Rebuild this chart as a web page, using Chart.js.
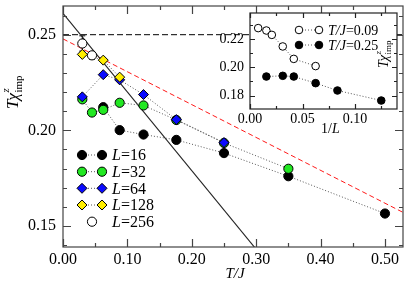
<!DOCTYPE html>
<html><head><meta charset="utf-8">
<script src="https://cdn.jsdelivr.net/npm/chart.js@4/dist/chart.umd.min.js"></script>
<style>
html,body{margin:0;padding:0;background:#fff;}
#wrap{position:relative;width:409px;height:281px;overflow:hidden;}
#main{position:absolute;left:0;top:0;}
#inset{position:absolute;left:200px;top:0;}
</style></head><body>
<div id="wrap"><canvas id="main" width="409" height="281" style="width:409px;height:281px"></canvas><canvas id="inset" width="209" height="140" style="width:209px;height:140px"></canvas></div>
<script>
// ---------------- data (main panel) ----------------
const seriesLabels = ['16', '32', '64', '128', '256'];
const T_L16  = [0.0625, 0.088, 0.125, 0.176, 0.25, 0.35, 0.50];
const chi_L16  = [0.2121, 0.2001, 0.1978, 0.1950, 0.1881, 0.1760, 0.1565];
const T_L32  = [0.03, 0.045, 0.0625, 0.088, 0.125, 0.176, 0.25, 0.35];
const chi_L32  = [0.2162, 0.2093, 0.2107, 0.2144, 0.2130, 0.2054, 0.1934, 0.1799];
const T_L64  = [0.03, 0.0625, 0.088, 0.125, 0.176, 0.25];
const chi_L64  = [0.2175, 0.2291, 0.2264, 0.2187, 0.2056, 0.1936];
const T_L128 = [0.03, 0.0625, 0.088];
const chi_L128 = [0.2397, 0.2367, 0.2278];
const T_L256 = [0.03, 0.045];
const chi_L256 = [0.2454, 0.2392];
const err_L256 = [0.004, 0.002];
// guide lines
const lineSolidX = [0, 0.30],  lineSolidY = [0.2611, 0.1378];
const lineRedX   = [0, 0.528], lineRedY   = [0.2478, 0.1571];
const lineHalfX  = [0, 0.528], lineHalfY  = [0.25, 0.25];
// ticks
const mainXTicks = [0, 0.1, 0.2, 0.3, 0.4, 0.5];
const mainYTicks = [0.15, 0.20, 0.25];
const mainXMinorStep = 0.05, mainYMinorStep = 0.01;
// ---------------- data (inset) ----------------
const insetLabels = ['0.09', '0.25'];
const invL_T009 = [0.0078, 0.0156, 0.0208, 0.0312, 0.0417, 0.0625];
const chi_T009  = [0.2278, 0.2261, 0.2230, 0.2148, 0.2060, 0.2009];
const invL_T025 = [0.0156, 0.0312, 0.0417, 0.0625, 0.0833, 0.125];
const chi_T025  = [0.1935, 0.1940, 0.1935, 0.1888, 0.1836, 0.1765];
const insetXTicks = [0, 0.05, 0.10];
const insetYTicks = [0.18, 0.20, 0.22];
const insetXMinorStep = 0.025, insetYMinorStep = 0.01;

const SERIF = '"Liberation Serif","DejaVu Serif",serif';
const pts = (xs, ys) => xs.map((x, i) => ({x: x, y: ys[i]}));

const styles = [
  {shape:'circle', fill:'#000000', r:4.6, line:true},
  {shape:'circle', fill:'#22e822', r:4.6, line:true},
  {shape:'rectRot', fill:'#0a0aff', r:5, line:true},
  {shape:'rectRot', fill:'#ffee00', r:5, line:true},
  {shape:'circle', fill:'#ffffff', r:4.6, line:false}
];
const mainData = [[T_L16, chi_L16], [T_L32, chi_L32], [T_L64, chi_L64], [T_L128, chi_L128], [T_L256, chi_L256]];

function drawMarker(ctx, st, x, y) {
  ctx.save();
  ctx.setLineDash([]);
  ctx.beginPath();
  if (st.shape === 'circle') ctx.arc(x, y, st.r, 0, Math.PI * 2);
  else { ctx.moveTo(x, y - st.r); ctx.lineTo(x + st.r, y); ctx.lineTo(x, y + st.r); ctx.lineTo(x - st.r, y); ctx.closePath(); }
  ctx.fillStyle = st.fill; ctx.fill();
  ctx.lineWidth = 1; ctx.strokeStyle = '#000'; ctx.stroke();
  ctx.restore();
}

function drawChi(ctx, cx, cy, size) {
  ctx.save();
  ctx.translate(cx, cy); ctx.rotate(-Math.PI / 2);
  ctx.fillStyle = '#000'; ctx.textBaseline = 'alphabetic'; ctx.textAlign = 'left';
  const fI = 'italic ' + size + 'px ' + SERIF;
  const fSI = 'italic ' + Math.round(size * 0.62) + 'px ' + SERIF;
  const fSR = Math.round(size * 0.62) + 'px ' + SERIF;
  ctx.font = fI; const wT = ctx.measureText('T').width, wC = ctx.measureText('\u03c7').width;
  ctx.font = fSR; const wImp = ctx.measureText('imp').width;
  const total = wT + wC + wImp;
  let x0 = -total / 2; const base = size * 0.3;
  ctx.font = fI; ctx.fillText('T', x0, base); ctx.fillText('\u03c7', x0 + wT - 1, base);
  ctx.font = fSI; ctx.fillText('z', x0 + wT + wC - 0.5, base - size * 0.55);
  ctx.font = fSR; ctx.fillText('imp', x0 + wT + wC - 0.5, base + size * 0.22);
  ctx.restore();
}

function drawMixed(ctx, x, y, parts, size) {
  ctx.save(); ctx.fillStyle = '#000'; ctx.textBaseline = 'middle'; ctx.textAlign = 'left';
  let cx = x;
  for (const [txt, it] of parts) { ctx.font = (it ? 'italic ' : '') + size + 'px ' + SERIF; ctx.fillText(txt, cx, y); cx += ctx.measureText(txt).width; }
  ctx.restore();
}

function frameTicks(xs, ys, xMinor, yMinor, maj, min, color) {
  return {
    id: 'frameTicks',
    afterDraw(chart) {
      const {ctx, chartArea: a, scales} = chart; const sx = scales.x, sy = scales.y;
      ctx.save(); ctx.strokeStyle = color; ctx.lineWidth = 1.2; ctx.setLineDash([]);
      ctx.strokeRect(a.left, a.top, a.right - a.left, a.bottom - a.top);
      ctx.beginPath();
      const xmn = sx.min, xmx = sx.max, ymn = sy.min, ymx = sy.max;
      for (let k = 0; k * xMinor <= xmx + 1e-9; k++) {
        const v = k * xMinor; if (v < xmn) continue;
        const isMaj = xs.some(t => Math.abs(t - v) < 1e-9); const L = isMaj ? maj : min;
        const p = Math.round(sx.getPixelForValue(v)) + 0.5;
        ctx.moveTo(p, a.bottom); ctx.lineTo(p, a.bottom - L); ctx.moveTo(p, a.top); ctx.lineTo(p, a.top + L);
      }
      const k0 = Math.ceil(ymn / yMinor - 1e-9);
      for (let k = k0; k * yMinor <= ymx + 1e-9; k++) {
        const v = k * yMinor;
        const isMaj = ys.some(t => Math.abs(t - v) < 1e-9); const L = isMaj ? maj : min;
        const p = Math.round(sy.getPixelForValue(v)) + 0.5;
        ctx.moveTo(a.left, p); ctx.lineTo(a.left + L, p); ctx.moveTo(a.right, p); ctx.lineTo(a.right - L, p);
      }
      ctx.stroke(); ctx.restore();
    }
  };
}

// ---------------- main chart ----------------
const mainDatasets = [];
mainData.forEach((d, i) => {
  const st = styles[i];
  mainDatasets.push({
    label: 'L=' + seriesLabels[i], data: pts(d[0], d[1]), showLine: st.line,
    borderColor: '#555', borderWidth: 1, borderDash: [1, 2],
    pointStyle: st.shape, pointRadius: st.r, pointHoverRadius: st.r,
    pointBackgroundColor: st.fill, pointBorderColor: '#000', pointBorderWidth: 1,
    order: 4 - i
  });
});
mainDatasets.push({label: 'solid', data: pts(lineSolidX, lineSolidY), showLine: true, borderColor: '#222', borderWidth: 1.1, pointRadius: 0, order: 20});
mainDatasets.push({label: 'red', data: pts(lineRedX, lineRedY), showLine: true, borderColor: '#ff1a1a', borderWidth: 1, borderDash: [5, 3], pointRadius: 0, order: 21});
mainDatasets.push({label: 'half', data: pts(lineHalfX, lineHalfY), showLine: true, borderColor: '#000', borderWidth: 1, borderDash: [6, 3], pointRadius: 0, order: 22});

const errPlugin = {
  id: 'errBars',
  beforeDatasetsDraw(chart) {
    const {ctx, scales: {y}} = chart; const meta = chart.getDatasetMeta(4);
    ctx.save(); ctx.strokeStyle = '#000'; ctx.lineWidth = 1; ctx.setLineDash([]); ctx.beginPath();
    meta.data.forEach((el, i) => {
      const v = chi_L256[i], e = err_L256[i];
      const t = y.getPixelForValue(v + e), b = y.getPixelForValue(v - e), x = el.x;
      ctx.moveTo(x, t); ctx.lineTo(x, b); ctx.moveTo(x - 3, t); ctx.lineTo(x + 3, t); ctx.moveTo(x - 3, b); ctx.lineTo(x + 3, b);
    });
    ctx.stroke(); ctx.restore();
  }
};

const mainDeco = {
  id: 'mainDeco',
  afterDraw(chart) {
    const ctx = chart.ctx;
    const rows = [155, 171.7, 188.3, 205, 221.7];
    seriesLabels.forEach((lab, i) => {
      const st = styles[i], y = rows[i];
      if (st.line) {
        ctx.save(); ctx.strokeStyle = '#555'; ctx.lineWidth = 1; ctx.setLineDash([1, 2]);
        ctx.beginPath(); ctx.moveTo(82, y); ctx.lineTo(102, y); ctx.stroke(); ctx.restore();
        drawMarker(ctx, st, 82, y); drawMarker(ctx, st, 102, y);
      } else drawMarker(ctx, st, 92, y);
      drawMixed(ctx, 112, y + 1, [['L', true], ['=' + lab, false]], 16);
    });
    drawChi(ctx, 13, 92, 17);
    ctx.save(); ctx.fillStyle = '#000'; ctx.font = 'italic 15px ' + SERIF; ctx.textAlign = 'center'; ctx.textBaseline = 'middle';
    ctx.fillText('T/J', 235, 274); ctx.restore();
  }
};

new Chart(document.getElementById('main'), {
  type: 'scatter',
  data: {datasets: mainDatasets},
  options: {
    responsive: false, animation: false, devicePixelRatio: 1,
    layout: {padding: {top: 1, right: 3, left: 0, bottom: 0}},
    plugins: {legend: {display: false}, tooltip: {enabled: false}},
    scales: {
      x: {type: 'linear', min: 0, max: 0.528,
        grid: {display: false, drawTicks: false}, border: {display: false},
        ticks: {color: '#000', font: {family: SERIF, size: 16}, padding: 3, autoSkip: false, maxRotation: 0, callback: v => v.toFixed(2)},
        afterBuildTicks: s => { s.ticks = mainXTicks.map(v => ({value: v})); },
        afterFit: s => { s.height = 34; s.paddingLeft = 0; s.paddingRight = 0; }},
      y: {type: 'linear', min: 0.139, max: 0.265,
        grid: {display: false, drawTicks: false}, border: {display: false},
        ticks: {color: '#000', font: {family: SERIF, size: 16}, padding: 7, callback: v => v.toFixed(2)},
        afterBuildTicks: s => { s.ticks = mainYTicks.map(v => ({value: v})); },
        afterFit: s => { s.width = 63; s.paddingTop = 0; s.paddingBottom = 0; }}
    }
  },
  plugins: [errPlugin, frameTicks(mainXTicks, mainYTicks, mainXMinorStep, mainYMinorStep, 8, 4, '#444'), mainDeco]
});

// ---------------- inset chart ----------------
const insetStyles = [
  {shape:'circle', fill:'#ffffff', r:3.8, line:true},
  {shape:'circle', fill:'#000000', r:3.8, line:true}
];
const insetData = [[invL_T009, chi_T009], [invL_T025, chi_T025]];
const insetDatasets = insetData.map((d, i) => ({
  label: 'T/J=' + insetLabels[i], data: pts(d[0], d[1]), showLine: true,
  borderColor: '#555', borderWidth: 1, borderDash: [1, 2],
  pointStyle: 'circle', pointRadius: insetStyles[i].r, pointHoverRadius: insetStyles[i].r,
  pointBackgroundColor: insetStyles[i].fill, pointBorderColor: '#000', pointBorderWidth: 1
}));

const insetBg = {
  id: 'insetBg',
  beforeDraw(chart) {
    const {ctx, chartArea: a} = chart; ctx.save(); ctx.fillStyle = '#fff';
    ctx.fillRect(a.left, a.top, a.right - a.left, a.bottom - a.top); ctx.restore();
  }
};
const insetDeco = {
  id: 'insetDeco',
  afterDraw(chart) {
    const ctx = chart.ctx; const rows = [30, 45];
    insetLabels.forEach((lab, i) => {
      const st = insetStyles[i], y = rows[i];
      ctx.save(); ctx.strokeStyle = '#555'; ctx.lineWidth = 1; ctx.setLineDash([1, 2]);
      ctx.beginPath(); ctx.moveTo(99, y); ctx.lineTo(119, y); ctx.stroke(); ctx.restore();
      drawMarker(ctx, st, 99, y); drawMarker(ctx, st, 119, y);
      drawMixed(ctx, 128, y + 1, [['T/J', true], ['=' + lab, false]], 14);
    });
    drawChi(ctx, 184, 54, 14);
    drawMixed(ctx, 121, 129, [['1/', false], ['L', true]], 14);
  }
};

new Chart(document.getElementById('inset'), {
  type: 'scatter',
  data: {datasets: insetDatasets},
  options: {
    responsive: false, animation: false, devicePixelRatio: 1,
    layout: {padding: {top: 13, right: 12, left: 0, bottom: 0}},
    plugins: {legend: {display: false}, tooltip: {enabled: false}},
    scales: {
      x: {type: 'linear', min: 0, max: 0.14,
        grid: {display: false, drawTicks: false}, border: {display: false},
        ticks: {color: '#000', font: {family: SERIF, size: 14}, padding: 2, autoSkip: false, maxRotation: 0, callback: v => v.toFixed(2)},
        afterBuildTicks: s => { s.ticks = insetXTicks.map(v => ({value: v})); },
        afterFit: s => { s.height = 31; s.paddingLeft = 0; s.paddingRight = 0; }},
      y: {type: 'linear', min: 0.1705, max: 0.2385,
        grid: {display: false, drawTicks: false}, border: {display: false},
        ticks: {color: '#000', font: {family: SERIF, size: 14}, padding: 6, callback: v => v.toFixed(2)},
        afterBuildTicks: s => { s.ticks = insetYTicks.map(v => ({value: v})); },
        afterFit: s => { s.width = 50; s.paddingTop = 0; s.paddingBottom = 0; }}
    }
  },
  plugins: [insetBg, frameTicks(insetXTicks, insetYTicks, insetXMinorStep, insetYMinorStep, 5, 3, '#222'), insetDeco]
});
</script>
</body></html>
